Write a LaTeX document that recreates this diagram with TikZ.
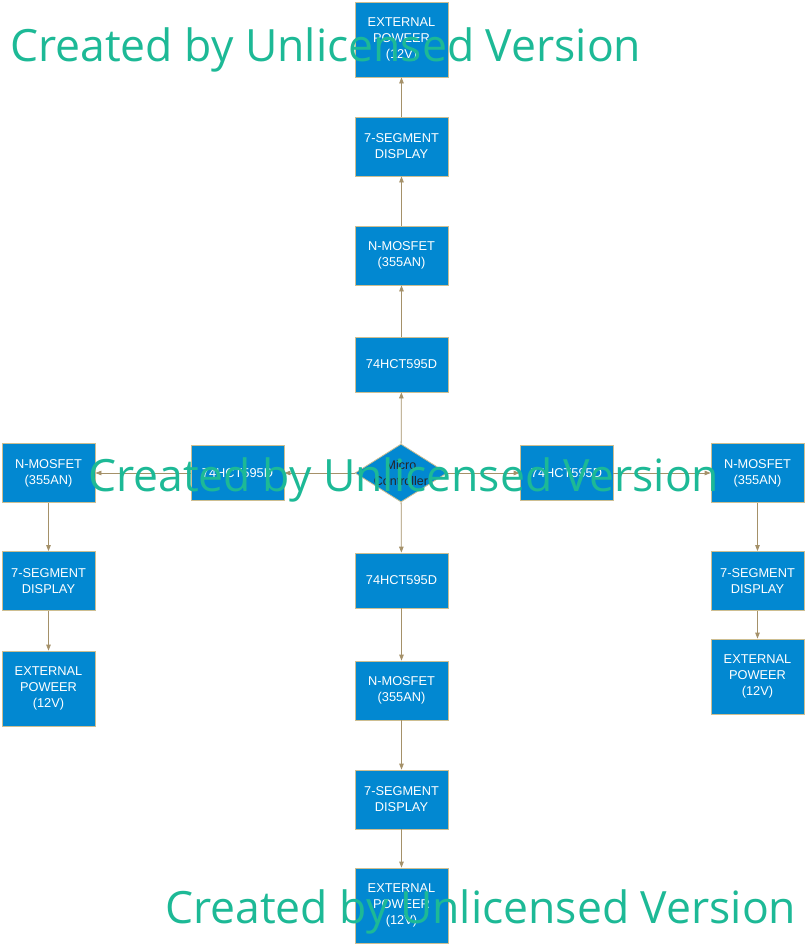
\documentclass[tikz,border=0pt]{standalone}
\usepackage{fontspec}
\setmainfont{Liberation Sans}
\newfontfamily\markfont{Open Sans}
\usetikzlibrary{shapes.geometric,arrows.meta}

\definecolor{boxblue}{RGB}{2,136,209}
\definecolor{boxrim}{RGB}{205,190,145}
\definecolor{linkcol}{RGB}{165,145,105}
\definecolor{markcol}{RGB}{29,185,150}

\tikzset{
  blk/.style={draw=boxrim, fill=boxblue, text=white, line width=0.8pt,
    minimum width=93pt, inner sep=1pt, align=center,
    font=\fontsize{12.8}{16}\selectfont},
  blk55/.style={blk, minimum height=55pt},
  blk59/.style={blk, minimum height=59pt},
  blk75/.style={blk, minimum height=75pt},
  mcubox/.style={diamond, draw=boxrim, fill=boxblue, line width=0.8pt,
    minimum width=92pt, minimum height=58pt, inner sep=0pt},
  link/.style={draw=linkcol, line width=0.8pt, -{Triangle[length=6pt,width=4.5pt]}},
  wmark/.style={text=markcol, anchor=base west, inner sep=0pt,
    font=\markfont\fontsize{44.5}{50}\selectfont}
}

\begin{document}
\begin{tikzpicture}[x=1pt,y=-1pt]
		\useasboundingbox (0,0) rectangle (805,945);
		% centre
		\node[mcubox, label={[text=black!85, align=center, font=\fontsize{12.5}{15.5}\selectfont]center:Micro\\Controller}] (mcu) at (401,473) {};
		% upward column
		\node[blk55] (t74) at (401.5,364.5) {74HCT595D};
		\node[blk59] (tmos) at (401.5,255.5) {N-MOSFET\\(355AN)};
		\node[blk59] (tseg) at (401.5,146.5) {7-SEGMENT\\DISPLAY};
		\node[blk75] (tpow) at (401.5,39.5) {EXTERNAL\\POWEER\\(12V)};
		% downward column
		\node[blk55] (b74) at (401.5,580.5) {74HCT595D};
		\node[blk59] (bmos) at (401.5,690.5) {N-MOSFET\\(355AN)};
		\node[blk59] (bseg) at (401.5,799.5) {7-SEGMENT\\DISPLAY};
		\node[blk75] (bpow) at (401.5,905.5) {EXTERNAL\\POWEER\\(12V)};
		% left branch
		\node[blk55] (l74) at (237.5,473) {74HCT595D};
		\node[blk59] (lmos) at (48.5,473) {N-MOSFET\\(355AN)};
		\node[blk59] (lseg) at (48.5,581) {7-SEGMENT\\DISPLAY};
		\node[blk75] (lpow) at (48.5,688.5) {EXTERNAL\\POWEER\\(12V)};
		% right branch
		\node[blk55] (r74) at (566.5,473) {74HCT595D};
		\node[blk59] (rmos) at (757.5,473) {N-MOSFET\\(355AN)};
		\node[blk59] (rseg) at (757.5,581) {7-SEGMENT\\DISPLAY};
		\node[blk75] (rpow) at (757.5,676.5) {EXTERNAL\\POWEER\\(12V)};
		% links
		\foreach \a/\b in {mcu/t74,t74/tmos,tmos/tseg,tseg/tpow,
		                   mcu/b74,b74/bmos,bmos/bseg,bseg/bpow,
		                   mcu/l74,l74/lmos,lmos/lseg,lseg/lpow,
		                   mcu/r74,r74/rmos,rmos/rseg,rseg/rpow}
		\draw[link] (\a) -- (\b);
		% watermark
		\node[wmark] (wm1) at (10,61) {Created by Unlicensed Version};
		\node[wmark] (wm2) at (88,491) {Created by Unlicensed Version};
		\node[wmark] (wm3) at (165,923) {Created by Unlicensed Version};
	\end{tikzpicture}
\end{document}
